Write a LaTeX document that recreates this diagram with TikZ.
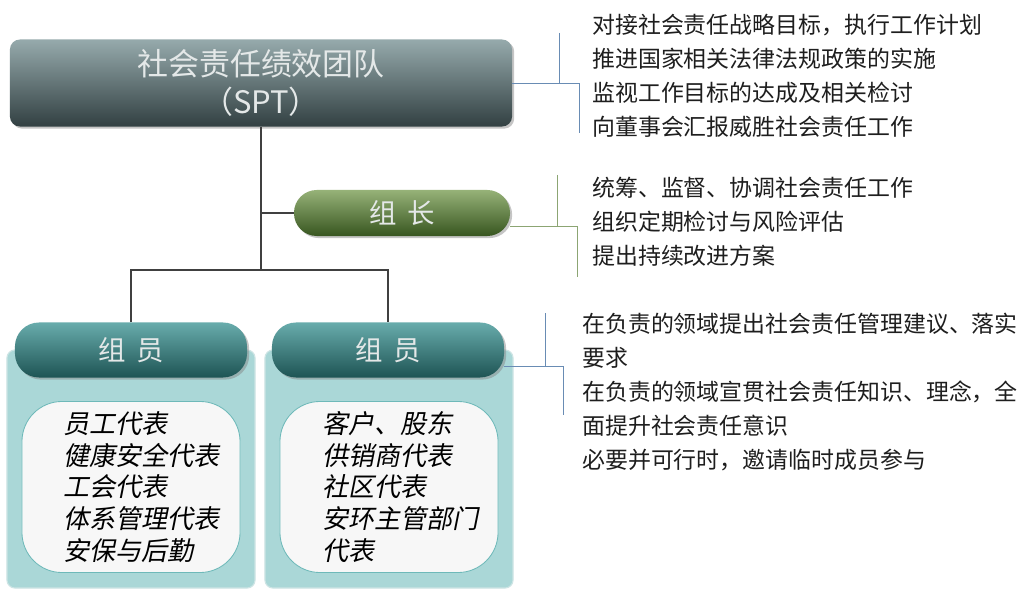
\documentclass[tikz,border=0pt]{standalone}
\usepackage{fontspec}
\setmainfont{Noto Sans CJK SC}
\newfontfamily\listfont[FakeSlant=0.2]{Noto Sans CJK SC}
\usetikzlibrary{shadows}

\definecolor{sptTop}{RGB}{150,170,172}
\definecolor{sptBot}{RGB}{50,64,66}
\definecolor{leadTop}{RGB}{150,178,120}
\definecolor{leadBot}{RGB}{56,86,32}
\definecolor{headTop}{RGB}{104,172,172}
\definecolor{headBot}{RGB}{30,84,84}
\definecolor{panelFill}{RGB}{170,215,215}
\definecolor{panelEdge}{RGB}{205,228,228}
\definecolor{listEdge}{RGB}{110,185,185}
\definecolor{titleText}{RGB}{228,232,232}
\definecolor{blueLink}{RGB}{105,140,180}
\definecolor{greenLink}{RGB}{140,165,115}
\definecolor{dutyText}{RGB}{30,30,30}

\newcommand\titlestyle{\fontsize{22}{27}\selectfont}
\newcommand\headstyle{\fontsize{19.5}{24}\selectfont}
\newcommand\dutystyle{\fontsize{16.3}{24.2}\selectfont}
\newcommand\liststyle{\listfont\fontsize{18.5}{22.6}\selectfont}

\tikzset{
  tagbox/.style={rectangle, align=center, text=titleText,
    drop shadow={opacity=.45, shadow xshift=1.5pt, shadow yshift=-1.5pt}},
  sptbox/.style={tagbox, rounded corners=.25cm, top color=sptTop, bottom color=sptBot,
    minimum width=12.55cm, minimum height=2.175cm, font=\titlestyle},
  leadbox/.style={tagbox, rounded corners=.57cm, top color=leadTop, bottom color=leadBot,
    minimum width=5.4cm, minimum height=1.15cm, font=\headstyle},
  headbox/.style={tagbox, rounded corners=.6cm, top color=headTop, bottom color=headBot,
    minimum width=5.8cm, minimum height=1.375cm, font=\headstyle},
  panel/.style={rectangle, rounded corners=.2cm, fill=panelFill, draw=panelEdge, line width=.8pt,
    minimum width=6.2cm, minimum height=5.95cm},
  listbox/.style={rectangle, rounded corners=1cm, fill=white!97!black, draw=listEdge, line width=.6pt,
    minimum width=5.45cm, minimum height=4.275cm},
  listtext/.style={anchor=west, align=left, inner sep=0pt, font=\liststyle},
  dutytext/.style={anchor=west, align=left, inner sep=0pt, text=dutyText, font=\dutystyle},
  trunkline/.style={draw=black!75, line width=.8pt},
  bluelink/.style={draw=blueLink, line width=.7pt},
  greenlink/.style={draw=greenLink, line width=.7pt},
}

\begin{document}
\begin{tikzpicture}[x=0.025cm, y=-0.025cm]
  \useasboundingbox[fill=white] (0,0) rectangle (1024,590);

  % boxes
  \node[sptbox] (spt) at (261,83) {社会责任绩效团队\\（SPT）};
  \node[leadbox] (lead) at (402,213) {组\hspace{.4em}长};
  \node[panel] (lpanel) at (131,469) {};
  \node[panel] (rpanel) at (389,469) {};
  \node[headbox] (lhead) at (131,350) {组\hspace{.4em}员};
  \node[headbox] (rhead) at (388,350) {组\hspace{.4em}员};
  \node[listbox] (llist) at (131,487) {};
  \node[listbox] (rlist) at (389,487) {};
  \node[listtext] (lnames) at (63,487) {员工代表\\健康安全代表\\工会代表\\体系管理代表\\安保与后勤};
  \node[listtext] (rnames) at (322,487) {客户、股东\\供销商代表\\社区代表\\安环主管部门\\代表};

  % duties
  \node[dutytext] (sptduty) at (592,76) {对接社会责任战略目标，执行工作计划\\推进国家相关法律法规政策的实施\\监视工作目标的达成及相关检讨\\向董事会汇报威胜社会责任工作};
  \node[dutytext] (leadduty) at (592,222) {统筹、监督、协调社会责任工作\\组织定期检讨与风险评估\\提出持续改进方案};
  \node[dutytext] (memduty) at (582,392) {在负责的领域提出社会责任管理建议、落实\\要求\\在负责的领域宣贯社会责任知识、理念，全\\面提升社会责任意识\\必要并可行时，邀请临时成员参与};

  % tree
  \coordinate (trunk) at (261,270);
  \draw[trunkline] (spt.south) -- (trunk);
  \draw[trunkline] (spt.south |- lead.west) -- (lead.west);
  \draw[trunkline] (lhead.north) |- (trunk) -| (rhead.north);

  % brackets
  \coordinate (spttop) at (559,33);
  \coordinate (sptbot) at (579,133);
  \draw[bluelink] (spt.east) -- (spt.east -| sptbot) -- (sptbot);
  \draw[bluelink] (spttop) -- (spttop |- spt.east);

  \coordinate (leadtop) at (557,175);
  \coordinate (leadbot) at (577,277);
  \draw[greenlink] (lead.-7) -- (lead.-7 -| leadbot) -- (leadbot);
  \draw[greenlink] (leadtop) -- (leadtop |- lead.-7);

  \coordinate (memtop) at (545,313);
  \coordinate (membot) at (563,415);
  \draw[bluelink] (rhead.-8) -- (rhead.-8 -| membot) -- (membot);
  \draw[bluelink] (memtop) -- (memtop |- rhead.-8);
\end{tikzpicture}
\end{document}
